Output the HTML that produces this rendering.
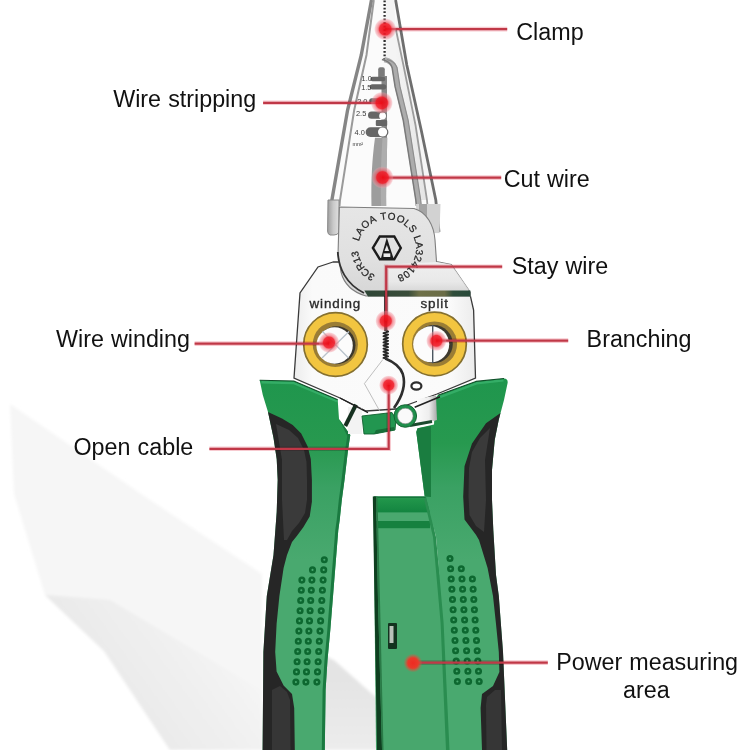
<!DOCTYPE html>
<html><head><meta charset="utf-8">
<style>
html,body{margin:0;padding:0;background:#fff;width:750px;height:750px;overflow:hidden}
svg{display:block}
text{font-family:"Liberation Sans",sans-serif;}
</style></head><body>
<svg width="750" height="750" viewBox="0 0 750 750">
<defs>
  <linearGradient id="gV" gradientUnits="userSpaceOnUse" x1="0" y1="380" x2="0" y2="560">
    <stop offset="0" stop-color="#1f964d"/>
    <stop offset="0.35" stop-color="#27994f"/>
    <stop offset="0.6" stop-color="#3aa163"/>
    <stop offset="1" stop-color="#49a96f"/>
  </linearGradient>
  <linearGradient id="plate" x1="0" y1="0" x2="0" y2="1">
    <stop offset="0" stop-color="#e6e6e6"/>
    <stop offset="0.6" stop-color="#e0e0e0"/>
    <stop offset="1" stop-color="#d6d6d6"/>
  </linearGradient>
  <linearGradient id="plate2" x1="0" y1="0" x2="0" y2="1">
    <stop offset="0" stop-color="#f2f2f2"/>
    <stop offset="0.7" stop-color="#ebebeb"/>
    <stop offset="1" stop-color="#dadada"/>
  </linearGradient>
  <linearGradient id="band" gradientUnits="userSpaceOnUse" x1="364" y1="0" x2="470" y2="0">
    <stop offset="0" stop-color="#2e4636"/>
    <stop offset="0.42" stop-color="#3a4d3a"/>
    <stop offset="0.52" stop-color="#6e7048"/>
    <stop offset="0.76" stop-color="#6a6c46"/>
    <stop offset="0.84" stop-color="#2f4d3b"/>
    <stop offset="1" stop-color="#284a3a"/>
  </linearGradient>
  <linearGradient id="rjaw" gradientUnits="userSpaceOnUse" x1="395" y1="0" x2="430" y2="0">
    <stop offset="0" stop-color="#f4f4f4"/>
    <stop offset="0.5" stop-color="#ececec"/>
    <stop offset="1" stop-color="#e2e2e2"/>
  </linearGradient>
  <radialGradient id="dot">
    <stop offset="0" stop-color="#ee0a14" stop-opacity="0.95"/>
    <stop offset="0.52" stop-color="#f01c28" stop-opacity="0.9"/>
    <stop offset="0.64" stop-color="#f0505c" stop-opacity="0.62"/>
    <stop offset="0.88" stop-color="#f28a96" stop-opacity="0.42"/>
    <stop offset="1" stop-color="#f7b0b6" stop-opacity="0"/>
  </radialGradient>
  <linearGradient id="boxtop" x1="0" y1="0" x2="0" y2="1">
    <stop offset="0" stop-color="#22974b"/>
    <stop offset="1" stop-color="#138440"/>
  </linearGradient>
  <linearGradient id="silver" x1="0" y1="0" x2="1" y2="0">
    <stop offset="0" stop-color="#fbfbfb"/>
    <stop offset="0.6" stop-color="#eeeeee"/>
    <stop offset="1" stop-color="#a9a9a9"/>
  </linearGradient>
  <linearGradient id="refl" gradientUnits="userSpaceOnUse" x1="90" y1="680" x2="200" y2="600">
    <stop offset="0" stop-color="#e8e8e8"/>
    <stop offset="1" stop-color="#f5f5f5"/>
  </linearGradient>
  <linearGradient id="refl2" gradientUnits="userSpaceOnUse" x1="0" y1="680" x2="0" y2="750">
    <stop offset="0" stop-color="#e4e4e4"/>
    <stop offset="1" stop-color="#ececec"/>
  </linearGradient>
  <filter id="blur2" x="-10%" y="-10%" width="120%" height="120%"><feGaussianBlur stdDeviation="1.5"/></filter>
  <linearGradient id="ltab" x1="0" y1="0" x2="1" y2="0">
    <stop offset="0" stop-color="#9e9e9e"/>
    <stop offset="0.5" stop-color="#c9c9c9"/>
    <stop offset="1" stop-color="#e0e0e0"/>
  </linearGradient>
  <linearGradient id="headg" gradientUnits="userSpaceOnUse" x1="294" y1="0" x2="476" y2="0">
    <stop offset="0" stop-color="#ececec"/>
    <stop offset="0.1" stop-color="#fafafa"/>
    <stop offset="0.85" stop-color="#fbfbfb"/>
    <stop offset="1" stop-color="#ebebeb"/>
  </linearGradient>
  <radialGradient id="dotg">
    <stop offset="0" stop-color="#ee2a22"/>
    <stop offset="0.55" stop-color="#e83a2a"/>
    <stop offset="0.75" stop-color="#d8503a" stop-opacity="0.6"/>
    <stop offset="1" stop-color="#c86048" stop-opacity="0"/>
  </radialGradient>
  <filter id="blur3"><feGaussianBlur stdDeviation="3"/></filter>
</defs>

<!-- background reflections -->
<g filter="url(#blur2)">
  <path d="M10 404 L150 500 L262 574 L262 750 L170 750 L104 651 L45 595 L14 494 Z" fill="#f6f6f6"/>
  <path d="M45 595 L110 600 L262 690 L262 750 L170 750 L104 651 Z" fill="url(#refl)"/>
  <path d="M318 652 L334.4 660.4 L377.6 698.8 L384 750 L318 750 Z" fill="url(#refl2)"/>
</g>

<!-- ===== JAWS ===== -->
<g id="jaws">
  <path d="M371.5 0 L396 0 L406.8 65 L421.2 130 L435.8 200 L440 234 L327 234 L329.5 232 L331.9 200 L347.6 110 L361.3 55 Z" fill="#fbfbfb"/>
  <!-- right jaw face -->
  <path d="M386 58 C391 60 394 63 395.5 67 L398 86.7 L406 120 L419 200 L427 200 L415.5 125 L403.4 65 L396 30 L394 0 L386 0 Z" fill="url(#rjaw)"/>
  <path d="M396 30 L403.4 65 L415.5 125 L427 200 L435.8 200 L421.2 130 L406.8 65 L396 2 Z" fill="#f6f6f6"/>
  <!-- left jaw lines -->
  <path d="M371.5 0 L361.3 55 L347.6 110 L331.9 200 L329.5 232" fill="none" stroke="#858585" stroke-width="3.4"/>
  <path d="M373.8 0 L366.5 55 L354.2 110 L340 200 L339.5 206" fill="none" stroke="#9a9a9a" stroke-width="2"/>
  <!-- right jaw lines -->
  <path d="M395.6 0 L406.8 65 L421.2 130 L435.8 200 L439 232" fill="none" stroke="#6e6e6e" stroke-width="2.8"/>
  <path d="M396 30 L403.4 65 L415.5 125 L427 200 L427.5 206" fill="none" stroke="#9c9c9c" stroke-width="1.8"/>
  <!-- serrated centre line -->
  <path d="M384.6 0.5 L384.6 60" stroke="#2e2e2e" stroke-width="2.3" stroke-dasharray="1.8 1.8"/>
  <!-- right jaw cutting edge -->
  <path d="M384.3 59.6 C389 60.5 393 63 394.5 67.5 L397.5 86.7 L405.6 120 L418.2 200 L418.8 206" fill="none" stroke="#acacac" stroke-width="5.4"/>
  <path d="M384.3 59.6 C389 60.5 393 63 394.5 67.5 L397.5 86.7 L405.6 120 L418.2 200 L418.8 206" fill="none" stroke="#7a7a7a" stroke-width="1.5" transform="translate(-2.4 0)"/>
  <path d="M384.3 59.6 C389 60.5 393 63 394.5 67.5 L397.5 86.7 L405.6 120 L418.2 200 L418.8 206" fill="none" stroke="#8e8e8e" stroke-width="1.2" transform="translate(2.5 0)"/>
  <!-- stripping zone -->
  <rect x="378.2" y="67.2" width="6.6" height="12" rx="2" fill="#7a7a7a"/>
  <rect x="381.5" y="76" width="5.5" height="62" fill="#878787"/>
  <g fill="#666">
    <rect x="370.4" y="76.8" width="15" height="4.4" rx="2.2"/>
    <rect x="369.8" y="84.2" width="16.5" height="5.2" rx="2.6"/>
    <rect x="369.2" y="98.2" width="18" height="5.2" rx="2.6"/>
    <rect x="368" y="111.6" width="18.4" height="7.2" rx="3.6"/>
    <rect x="375.8" y="120" width="11.4" height="6" rx="1"/>
    <rect x="365.6" y="127.2" width="22.8" height="9.8" rx="4.9"/>
  </g>
  <g fill="#fff"><circle cx="382.6" cy="116" r="3.4"/><circle cx="382.6" cy="132" r="4.6"/></g>
  <g font-size="7.4" fill="#3a3a3a">
    <text x="361.6" y="81.2">1.0</text>
    <text x="361.2" y="90">1.5</text>
    <text x="357.2" y="103.6">2.0</text>
    <text x="356" y="116.2">2.5</text>
    <text x="354.6" y="134.8">4.0</text>
    <text x="352.4" y="146.2" font-size="5.4">mm²</text>
  </g>
  <!-- cut-wire grey band -->
  <path d="M375 137.7 L387.2 137.7 C387 160 386 180 386.2 206 L371.5 206 C371 180 372 160 375 137.7 Z" fill="#9d9d9d"/>
  <path d="M382.5 137.7 L387.2 137.7 C387 160 386 180 386.2 206 L381 206 C380.5 180 381 160 382.5 137.7 Z" fill="#adadad"/>
  <!-- lower jaw tabs -->
  <path d="M328 200 L339 200 L339 232 Q338 235 334 235 L330 235 Q327.5 234 327.6 231 Z" fill="url(#ltab)" stroke="#8a8a8a" stroke-width="1"/>
  <path d="M416 204 L440.5 204 L439.5 233 L417 233 Z" fill="#d2d2d2"/>
  <path d="M419 204 L427 204 L427 233 L419 233 Z" fill="#a4a4a4"/>
</g>

<!-- ===== HEAD (white body) ===== -->
<path d="M333 262 L318 267 L300 293 L294 378 L340 398 L366 411 L396 409 L418 401 L437 394 L475.5 378 L473.6 310 L470.4 296 L436 262 Z" fill="url(#headg)" stroke="#3a3a3a" stroke-width="1.3"/>

<!-- ===== PIVOT PLATE ===== -->
<g id="plate">
  <path d="M339.4 207 L414 208.5 C427 212 434 226 435 240 L436.5 261.5 L451.2 264.4 L470.4 292.4 L470.4 296 L366 296 C352 292 344 284 341 272 L338 255 Z" fill="url(#plate)" stroke="#7e7e7e" stroke-width="1.1"/>
  <path d="M388 264.5 L436.5 262 L451.2 264.4 L469 290 L388 290 Z" fill="url(#plate2)" opacity="0.85"/>
  <path d="M364.3 290.5 L470.4 290.5 L470.4 296.4 L368 296.4 Z" fill="url(#band)"/>
  <path d="M337.8 252 C338.5 268 346 284 364 293" fill="none" stroke="#333" stroke-width="1.8"/>
  <!-- hex logo -->
  <polygon points="372.9,247.9 379.8,236.5 394.3,236.5 400.8,247.9 394.3,259.2 379.8,259.2" fill="none" stroke="#1c1c1c" stroke-width="2.4" stroke-linejoin="miter"/>
  <polygon points="386.8,237.6 380.9,258.6 393.6,258.6" fill="#1c1c1c"/>
  <polygon points="386.8,245 384.5,251 389.1,251" fill="#e6e6e6"/>
  <rect x="383.5" y="253.4" width="6.8" height="3.6" fill="#ececec"/>
  <g font-size="10" fill="#262626" stroke="#262626" stroke-width="0.25" text-anchor="middle">
    <text x="372.80" y="273.78" transform="rotate(209.3 372.80 273.78)">3</text>
    <text x="367.61" y="270.07" transform="rotate(222.0 367.61 270.07)">C</text>
    <text x="362.90" y="264.62" transform="rotate(236.2 362.90 264.62)">R</text>
    <text x="359.95" y="258.96" transform="rotate(248.8 359.95 258.96)">1</text>
    <text x="358.46" y="253.62" transform="rotate(259.8 358.46 253.62)">3</text>
    <text x="359.64" y="238.87" transform="rotate(289.4 359.64 238.87)">L</text>
    <text x="362.56" y="232.90" transform="rotate(302.6 362.56 232.90)">A</text>
    <text x="367.56" y="226.98" transform="rotate(317.9 367.56 226.98)">O</text>
    <text x="373.96" y="222.60" transform="rotate(333.3 373.96 222.60)">A</text>
    <text x="383.75" y="219.68" transform="rotate(353.6 383.75 219.68)">T</text>
    <text x="391.22" y="219.81" transform="rotate(368.4 391.22 219.81)">O</text>
    <text x="399.17" y="222.18" transform="rotate(384.8 399.17 222.18)">O</text>
    <text x="405.28" y="225.99" transform="rotate(399.1 405.28 225.99)">L</text>
    <text x="409.93" y="230.75" transform="rotate(412.2 409.93 230.75)">S</text>
    <text x="414.49" y="239.28" transform="rotate(431.5 414.49 239.28)">L</text>
    <text x="415.85" y="245.52" transform="rotate(444.1 415.85 245.52)">A</text>
    <text x="415.80" y="251.90" transform="rotate(456.7 415.80 251.90)">3</text>
    <text x="414.54" y="257.59" transform="rotate(468.3 414.54 257.59)">2</text>
    <text x="412.16" y="262.92" transform="rotate(479.8 412.16 262.92)">4</text>
    <text x="408.77" y="267.66" transform="rotate(491.3 408.77 267.66)">1</text>
    <text x="404.50" y="271.63" transform="rotate(502.9 404.50 271.63)">0</text>
    <text x="399.52" y="274.66" transform="rotate(514.4 399.52 274.66)">8</text>
  </g>
</g>

<!-- ===== HEAD DETAILS ===== -->
<g font-size="13.4" fill="#2a2a2a" stroke="#2a2a2a" stroke-width="0.35" letter-spacing="0.9">
  <text x="309.5" y="307.9">winding</text>
  <text x="420.5" y="307.9">split</text>
</g>
<!-- gold rings -->
<g>
  <circle cx="335.5" cy="344.5" r="31.8" fill="#f2c540" stroke="#85702f" stroke-width="1.7"/>
  <circle cx="335.3" cy="344.3" r="22.6" fill="#9a7d35"/>
  <circle cx="336.5" cy="345.3" r="19" fill="#3b372c"/>
  <circle cx="334.6" cy="345.5" r="18.2" fill="#fcfcfc"/>
  <path d="M322.5 331.5 L348.5 358 M349 331.5 L322 358" stroke="#b9c3cc" stroke-width="1.3"/>
  <circle cx="434.5" cy="344" r="31.8" fill="#f2c540" stroke="#85702f" stroke-width="1.7"/>
  <circle cx="434.5" cy="344" r="22.6" fill="#9a7d35"/>
  <circle cx="433.8" cy="344.1" r="19" fill="#3e3a2e"/>
  <circle cx="431.2" cy="344.3" r="18" fill="#fcfcfc"/>
  <path d="M432.7 325 L432.7 363.2" stroke="#4c5660" stroke-width="1.4"/>
</g>
<!-- stay wire serration + open cable arc -->
<path d="M385.8 296 L385.8 331" stroke="#1c1c1c" stroke-width="3.2"/>
<path d="M385.8 330.0 L388.1 331.6 L383.5 333.1 L388.1 334.7 L383.5 336.2 L388.1 337.8 L383.5 339.3 L388.1 340.9 L383.5 342.4 L388.1 344.0 L383.5 345.5 L388.1 347.1 L383.5 348.6 L388.1 350.2 L383.5 351.7 L388.1 353.3 L383.5 354.8 L388.1 356.4 L383.5 357.9 L385.8 358.5" fill="none" stroke="#262626" stroke-width="1.9" stroke-linejoin="round"/>
<path d="M385.3 358.5 C394 362 400 366 402.8 374 C405.5 383 404 394 394 408" fill="none" stroke="#2e2e2e" stroke-width="2.6"/>
<path d="M382.8 359.6 L364.4 383.6 L379.6 410.8" fill="none" stroke="#b8b8b8" stroke-width="0.9"/>
<ellipse cx="416.4" cy="386" rx="5" ry="3.6" fill="#fff" stroke="#2e2e2e" stroke-width="2.2"/>

<!-- ===== CENTER BOX ===== -->
<g id="box">
  <path d="M373.4 496.4 L430 496.4 L462 750 L376 750 Z" fill="#48a76d"/>
  <rect x="374" y="496.4" width="56" height="2" fill="#17763c"/>
  <rect x="374" y="498.2" width="56" height="14.4" fill="url(#boxtop)"/>
  <rect x="374" y="512.6" width="56" height="8.4" fill="#4aa86f"/>
  <rect x="374" y="521" width="56" height="7.2" fill="#16813f"/>
  <path d="M372.8 496.4 L376 496.4 L378 600 L382 750 L377 750 L374.5 600 Z" fill="#0f3f20"/>
  <path d="M376 496.4 L377.5 496.4 L380 600 L383.5 750 L382 750 L378 600 Z" fill="#2a7a47"/>
  <rect x="388" y="623" width="9" height="26" rx="1" fill="#13321f"/>
  <rect x="389.5" y="626" width="4" height="17" fill="#b9c2ba"/>
</g>

<!-- ===== LEFT HANDLE ===== -->
<g id="lh">
  <path d="M259.7 380.3 L293.7 381 L337.7 399.7 L339 419 L350.3 435 L348 450 L344.5 480 L341.8 500 L339.7 520 L338.3 530 L334.3 580 L330.3 630 L327.5 660 L325.6 690 L324.8 750 L262.6 750 L263.4 652 L266.8 596 L273.5 555 L276.7 512 L277.7 480 L276.7 459 L273.5 437.7 L268 412 L262.8 395 Z" fill="url(#gV)"/>
  <path d="M261.5 382.2 L293.5 383 L337 401.2" fill="none" stroke="#34ad66" stroke-width="2.4" stroke-linejoin="round"/>
  <path d="M259.7 380.3 L293.7 381 L337.7 399.7" fill="none" stroke="#0f4f29" stroke-width="1.1" stroke-linejoin="round"/>
  <path d="M339 419 L350.3 435 L348 450 L344.5 480 L341.8 500 L339.7 520 L338.3 530 L334.3 580 L330.3 630 L327.5 660 L325.6 690 L324.8 750 L321.8 750 L322.6 690 L324.5 660 L327.3 630 L331.3 580 L335.3 530 L336.7 520 L338.8 500 L341.5 480 L345.1 450 L347.3 436 Z" fill="#1a7a40"/>
  <!-- black grip -->
  <path d="M268 412 L282 418.5 L292.7 425 L301.2 433.4 L307.6 446.2 L310.8 459 L311.9 480 L311.9 501.7 L309.7 516.6 L303.3 527.3 L297 535.8 L292 542 L287 555 L283.6 568 L279.4 596 L276.6 624 L275.2 652 L276.6 671.6 L283.6 685.6 L292 694 L294.2 708 L294.8 750 L262.6 750 L263.4 652 L266.8 596 L273.5 555 L276.7 512 L277.7 480 L276.7 459 L273.5 437.7 Z" fill="#262626"/>
  <path d="M276 424 L289 430 L298 438 L304 450 L306.5 462 L307 480 L307 500 L305 513 L299 523 L292 531 L287 540 L284 540 L282 500 L282 460 Z" fill="#3a3a3a"/>
  <path d="M280 686 L287 692 L290 700 L290.5 750 L272 750 L272 690 Z" fill="#363636"/>
</g>

<!-- ===== RIGHT HANDLE ===== -->
<g id="rh">
  <path d="M437.9 395.3 L475.9 381.4 L504 378.5 Q508.5 379 507.5 383.5 L504 400 L498.7 420 L494.7 440 L492 470 L492 500 L493.3 530 L496 575 L498.8 596 L503 652 L507.2 750 L449 750 L443.6 623 L436 537 L426 497 L424.7 496.5 L416.3 432 L417.6 428.3 L434 424.5 L435.3 397.9 Z" fill="url(#gV)"/>
  <path d="M438.5 397.6 L476.5 383.3 L503.5 380.4" fill="none" stroke="#34ad66" stroke-width="2.4" stroke-linejoin="round"/>
  <path d="M437.9 395.3 L475.9 381.4 L504 378.5" fill="none" stroke="#0f4f29" stroke-width="1.1" stroke-linejoin="round"/>
  <path d="M416.3 432 L417.6 428.3 L431 426 L431 497 L424.7 496.5 Z" fill="#1a7d40"/>
  <path d="M426 497 L436 537 L443.6 623 L449.5 750 L446 750 L440.6 623 L433 537 L424 499 Z" fill="#2a8d50"/>
  <!-- black grip -->
  <path d="M500.5 413 L486 423.2 L472 443.5 L464.5 466.3 L463.2 496.7 L464.5 519.5 L475.9 534.7 L479 540 L487.6 568 L493 596 L496 624 L498.8 652 L499.4 672 L493 686 L482 694 L480.6 708 L482 750 L507.2 750 L503 652 L498.8 596 L496 575 L493.3 530 L492 500 L492 470 L494.7 440 L498.7 420 Z" fill="#262626"/>
  <path d="M490 428 L480 438 L472 452 L469 468 L468.5 496 L469.5 515 L476 526 L484 532 L486 500 L485 460 Z" fill="#3a3a3a"/>
  <path d="M495 690 L487 697 L486 705 L486.5 750 L502 750 L501 690 Z" fill="#363636"/>
</g>

<!-- lever / joint -->
<path d="M348 407 L362 408 L362 434 L348 434 Z" fill="#f3f3f3"/>
<path d="M356 404.7 L345.3 426" stroke="#15301f" stroke-width="4"/>
<path d="M340 398 L368 412.7" stroke="#222" stroke-width="1.4"/>
<path d="M417 399 L436 395.5 L437 420 L426 423 L417 424 Z" fill="url(#silver)"/>
<path d="M414.7 407.3 L440 396.7" stroke="#222" stroke-width="1.6"/>
<path d="M410 425.5 L432 421.5" stroke="#1b4a2e" stroke-width="3"/>
<path d="M362 416 L392 412.5 L396 419 L395 430 L374 434 L364 434 Z" fill="#229650" stroke="#11602f" stroke-width="0.9"/>
<path d="M374 434 L395 430 L394 427 L376 430 Z" fill="#176e38"/>
<circle cx="405.3" cy="416" r="11.3" fill="#1f8e4b" stroke="#11602f" stroke-width="0.9"/>
<circle cx="405.3" cy="416" r="7.8" fill="#fafafa" stroke="#8a8a8a" stroke-width="0.6"/>

<!-- handle dot grids -->
<g id="dots" fill="none" stroke="#0d6830" stroke-width="2.5"><circle cx="324.3" cy="559.7" r="2.3"/><circle cx="312.5" cy="569.9" r="2.3"/><circle cx="323.7" cy="569.9" r="2.3"/><circle cx="301.9" cy="580.1" r="2.3"/><circle cx="311.9" cy="580.1" r="2.3"/><circle cx="323.1" cy="580.1" r="2.3"/><circle cx="301.3" cy="590.3" r="2.3"/><circle cx="311.3" cy="590.3" r="2.3"/><circle cx="322.4" cy="590.3" r="2.3"/><circle cx="300.7" cy="600.5" r="2.3"/><circle cx="310.7" cy="600.5" r="2.3"/><circle cx="321.8" cy="600.5" r="2.3"/><circle cx="300.1" cy="610.7" r="2.3"/><circle cx="310.1" cy="610.7" r="2.3"/><circle cx="321.2" cy="610.7" r="2.3"/><circle cx="299.5" cy="620.9" r="2.3"/><circle cx="309.5" cy="620.9" r="2.3"/><circle cx="320.6" cy="620.9" r="2.3"/><circle cx="298.9" cy="631.1" r="2.3"/><circle cx="308.9" cy="631.1" r="2.3"/><circle cx="320.0" cy="631.1" r="2.3"/><circle cx="298.3" cy="641.3" r="2.3"/><circle cx="308.3" cy="641.3" r="2.3"/><circle cx="319.3" cy="641.3" r="2.3"/><circle cx="297.7" cy="651.5" r="2.3"/><circle cx="307.7" cy="651.5" r="2.3"/><circle cx="318.7" cy="651.5" r="2.3"/><circle cx="297.1" cy="661.7" r="2.3"/><circle cx="307.1" cy="661.7" r="2.3"/><circle cx="318.1" cy="661.7" r="2.3"/><circle cx="296.5" cy="671.9" r="2.3"/><circle cx="306.5" cy="671.9" r="2.3"/><circle cx="317.5" cy="671.9" r="2.3"/><circle cx="295.9" cy="682.1" r="2.3"/><circle cx="305.9" cy="682.1" r="2.3"/><circle cx="316.9" cy="682.1" r="2.3"/><circle cx="450.0" cy="558.5" r="2.3"/><circle cx="450.6" cy="568.8" r="2.3"/><circle cx="461.3" cy="568.8" r="2.3"/><circle cx="451.2" cy="579.0" r="2.3"/><circle cx="462.0" cy="579.0" r="2.3"/><circle cx="472.4" cy="579.0" r="2.3"/><circle cx="451.9" cy="589.2" r="2.3"/><circle cx="462.6" cy="589.2" r="2.3"/><circle cx="473.1" cy="589.2" r="2.3"/><circle cx="452.5" cy="599.5" r="2.3"/><circle cx="463.3" cy="599.5" r="2.3"/><circle cx="473.8" cy="599.5" r="2.3"/><circle cx="453.1" cy="609.8" r="2.3"/><circle cx="463.9" cy="609.8" r="2.3"/><circle cx="474.4" cy="609.8" r="2.3"/><circle cx="453.7" cy="620.0" r="2.3"/><circle cx="464.6" cy="620.0" r="2.3"/><circle cx="475.1" cy="620.0" r="2.3"/><circle cx="454.3" cy="630.2" r="2.3"/><circle cx="465.3" cy="630.2" r="2.3"/><circle cx="475.8" cy="630.2" r="2.3"/><circle cx="455.0" cy="640.5" r="2.3"/><circle cx="465.9" cy="640.5" r="2.3"/><circle cx="476.5" cy="640.5" r="2.3"/><circle cx="455.6" cy="650.8" r="2.3"/><circle cx="466.6" cy="650.8" r="2.3"/><circle cx="477.2" cy="650.8" r="2.3"/><circle cx="456.2" cy="661.0" r="2.3"/><circle cx="467.2" cy="661.0" r="2.3"/><circle cx="477.8" cy="661.0" r="2.3"/><circle cx="456.8" cy="671.2" r="2.3"/><circle cx="467.9" cy="671.2" r="2.3"/><circle cx="478.5" cy="671.2" r="2.3"/><circle cx="457.4" cy="681.5" r="2.3"/><circle cx="468.6" cy="681.5" r="2.3"/><circle cx="479.2" cy="681.5" r="2.3"/></g>

<!-- ===== RED CALLOUTS ===== -->
<g stroke="#f4b8c0" stroke-width="4.6" fill="none" opacity="0.75" style="mix-blend-mode:multiply">
  <path d="M385 29.1 L507.2 29.1"/>
  <path d="M263.1 102.8 L381.8 102.8"/>
  <path d="M382.5 177.6 L501.2 177.6"/>
  <path d="M502.2 266.7 L386.2 266.7 L386.2 321"/>
  <path d="M194.6 343.6 L329 343.6"/>
  <path d="M436.4 340.6 L568.2 340.6"/>
  <path d="M209.4 448.8 L388.7 448.8 L388.7 385.1"/>
  <path d="M413 662.6 L547.8 662.6"/>
</g>
<g stroke="#c03847" stroke-width="2.2" fill="none">
  <path d="M385 29.1 L507.2 29.1"/>
  <path d="M263.1 102.8 L381.8 102.8"/>
  <path d="M382.5 177.6 L501.2 177.6"/>
  <path d="M502.2 266.7 L386.2 266.7 L386.2 321"/>
  <path d="M194.6 343.6 L329 343.6"/>
  <path d="M436.4 340.6 L568.2 340.6"/>
  <path d="M209.4 448.8 L388.7 448.8 L388.7 385.1"/>
  <path d="M413 662.6 L547.8 662.6"/>
</g>
<g fill="url(#dot)">
  <circle cx="385.2" cy="29.2" r="11.2"/>
  <circle cx="381.8" cy="102.9" r="11.2"/>
  <circle cx="382.5" cy="177.5" r="11.2"/>
  <circle cx="385.8" cy="320.9" r="10.6"/>
  <circle cx="329" cy="342.5" r="10.6"/>
  <circle cx="436.4" cy="340.8" r="10.4"/>
  <circle cx="388.7" cy="385.1" r="9.8"/>
  <circle cx="413" cy="663" r="9.5" fill="url(#dotg)"/>
</g>

<!-- ===== LABELS ===== -->
<g font-size="23.3" fill="#111" word-spacing="0.6">
  <text x="516.3" y="39.5">Clamp</text>
  <text x="113.2" y="107.3">Wire stripping</text>
  <text x="503.7" y="187.4">Cut wire</text>
  <text x="511.7" y="274.1">Stay wire</text>
  <text x="56" y="346.9">Wire winding</text>
  <text x="586.6" y="346.9">Branching</text>
  <text x="73.5" y="454.6">Open cable</text>
  <text x="556.2" y="670.4">Power measuring</text>
  <text x="623" y="697.6">area</text>
</g>
</svg>
</body></html>
